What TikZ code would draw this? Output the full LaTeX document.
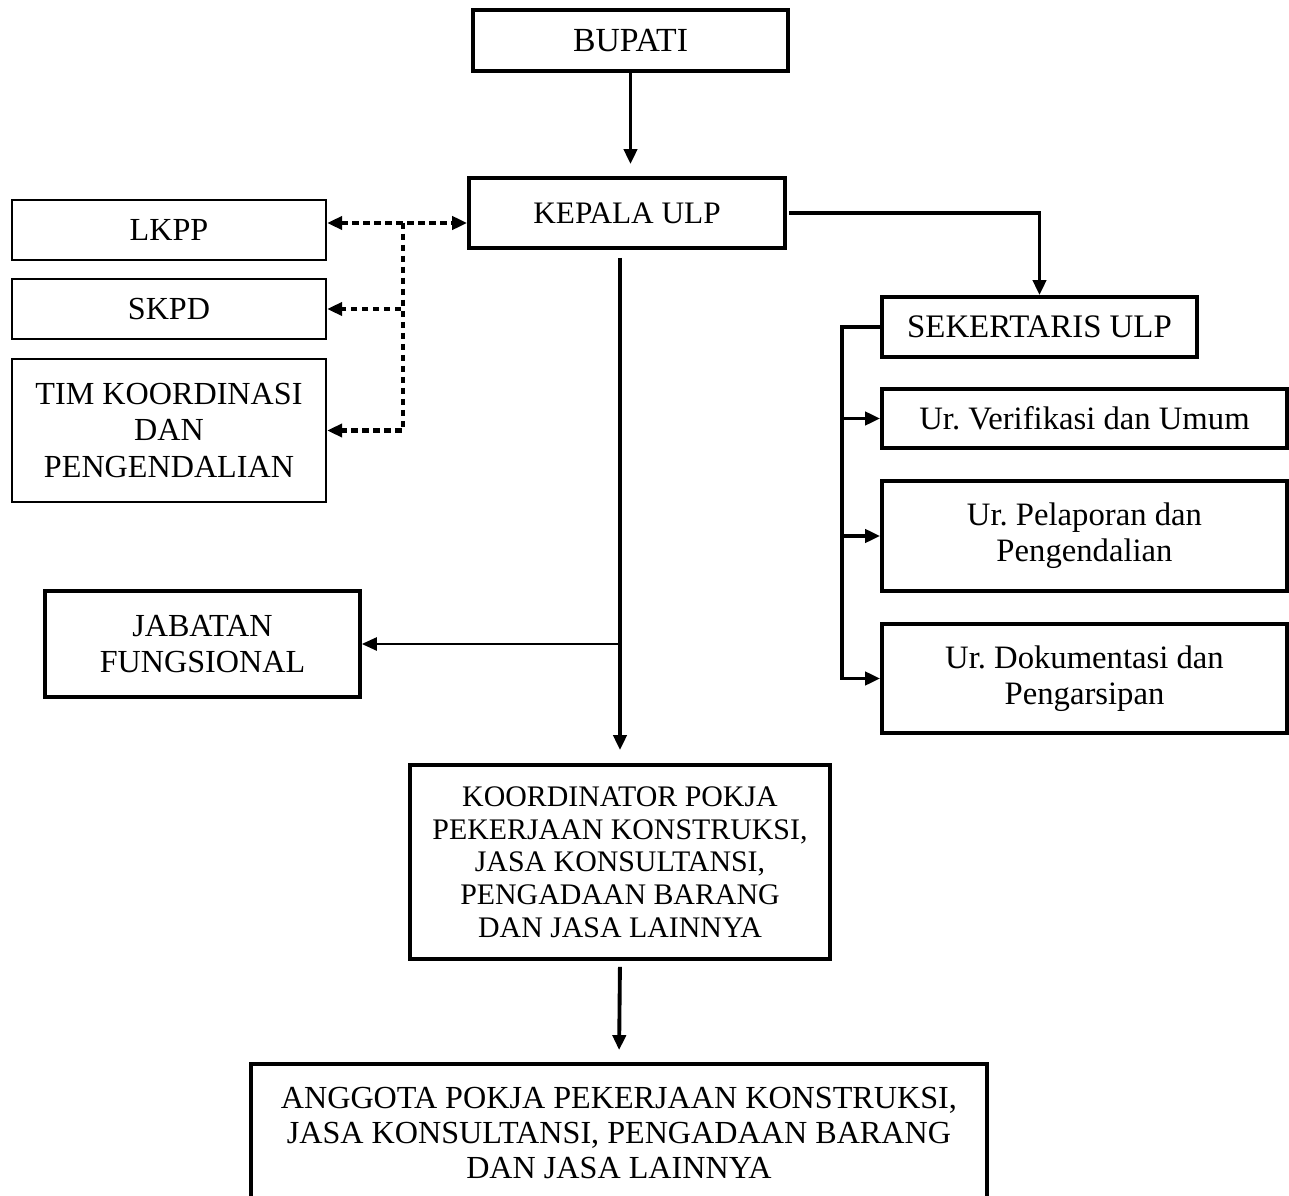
\documentclass[tikz,border=0pt]{standalone}
\usepackage{fontspec}
\setmainfont{Liberation Serif}
\usetikzlibrary{arrows.meta}

\definecolor{color1}{RGB}{0,0,0}
\definecolor{color2}{RGB}{255,255,255}

\tikzset{
	box/.style={draw=color1, fill=color2, line width=2.1pt, inner sep=0pt, align=center,
		font=\fontsize{18.3}{20.5}\selectfont},
	thinbox/.style={box, line width=1.3pt},
	link/.style={color=color1, line width=2.2pt, -{Triangle[length=0.3cm, width=0.26cm]}},
	dotlink/.style={color=color1, line width=2.6pt, dash pattern=on 0.13cm off 0.09cm,
		-{Triangle[length=0.3cm, width=0.26cm]}}
}

\begin{document}
\begin{tikzpicture}[x=0.02cm, y=-0.02cm]
	\useasboundingbox (0,0) rectangle (1289,1196);
	\clip (0,0) rectangle (1289,1196);
	% top
	\node[box, minimum width=6.30cm, minimum height=1.22cm, font=\fontsize{19.2}{20.5}\selectfont] (bupati) at (630.5,40.5) {BUPATI};
	\node[box, minimum width=6.32cm, minimum height=1.40cm, font=\fontsize{17.8}{20.5}\selectfont] (kepala) at (627,213) {KEPALA ULP};
	% left side
	\node[thinbox, minimum width=6.28cm, minimum height=1.20cm] (lkpp) at (169,230) {LKPP};
	\node[thinbox, minimum width=6.28cm, minimum height=1.20cm] (skpd) at (169,309) {SKPD};
	\node[thinbox, minimum width=6.28cm, minimum height=2.86cm, font=\fontsize{18.3}{21}\selectfont] (tim) at (169,430.5) {TIM KOORDINASI\\DAN\\PENGENDALIAN};
	\node[box, minimum width=6.30cm, minimum height=2.12cm] (jabatan) at (202.5,644) {JABATAN\\FUNGSIONAL};
	% right side
	\node[box, minimum width=6.30cm, minimum height=1.20cm, font=\fontsize{18.7}{20.5}\selectfont] (sekretaris) at (1039.5,327) {SEKERTARIS ULP};
	\node[box, minimum width=8.10cm, minimum height=1.18cm, font=\fontsize{18.6}{20.5}\selectfont] (verif) at (1084.5,418.5) {Ur.\ Verifikasi dan Umum};
	\node[box, minimum width=8.10cm, minimum height=2.20cm, font=\fontsize{18.6}{20.5}\selectfont] (lapor) at (1084.5,536) {Ur.\ Pelaporan dan\\Pengendalian};
	\node[box, minimum width=8.10cm, minimum height=2.18cm, font=\fontsize{18.6}{20.5}\selectfont] (dok) at (1084.5,678.5) {Ur.\ Dokumentasi dan\\Pengarsipan};
	% bottom
	\node[box, minimum width=8.40cm, minimum height=3.88cm, font=\fontsize{17}{18.6}\selectfont] (koord) at (620,862) {KOORDINATOR POKJA\\PEKERJAAN KONSTRUKSI,\\JASA KONSULTANSI,\\PENGADAAN BARANG\\DAN JASA LAINNYA};
	\node[box, minimum width=14.72cm, minimum height=2.76cm, font=\fontsize{18.3}{20}\selectfont] (anggota) at (619,1133) {ANGGOTA POKJA PEKERJAAN KONSTRUKSI,\\JASA KONSULTANSI, PENGADAAN BARANG\\DAN JASA LAINNYA};
	\coordinate (hub) at (403,223);
	\coordinate (bus) at (842,327);

	\draw[link, shorten >=0.24cm] (bupati.south) -- (bupati.south |- kepala.north);
	\draw[link, shorten <=0.16cm, shorten >=0.26cm] (kepala.south -| koord.north) -- (koord.north);
	\draw[link, line width=1.4pt] (koord.north |- jabatan.east) -- (jabatan.east);
	\draw[link, shorten <=0.12cm, shorten >=0.24cm] (koord.south) -- (anggota.north);
	\draw[link, shorten <=0.04cm] (kepala.east) -| (sekretaris.north);
	% sekretaris branch
	\draw[link] (sekretaris.west) -- (bus) |- (dok.west);
	\draw[link] (bus |- verif.west) -- (verif.west);
	\draw[link] (bus |- lapor.west) -- (lapor.west);
	% dotted links
	\draw[dotlink, {Triangle[length=0.3cm, width=0.26cm]}-{Triangle[length=0.3cm, width=0.26cm]}] (lkpp.east |- hub) -- (kepala.west |- hub);
	\draw[dotlink] (hub) |- (skpd.east);
	\draw[dotlink] (hub) |- (tim.east);
\end{tikzpicture}
\end{document}
